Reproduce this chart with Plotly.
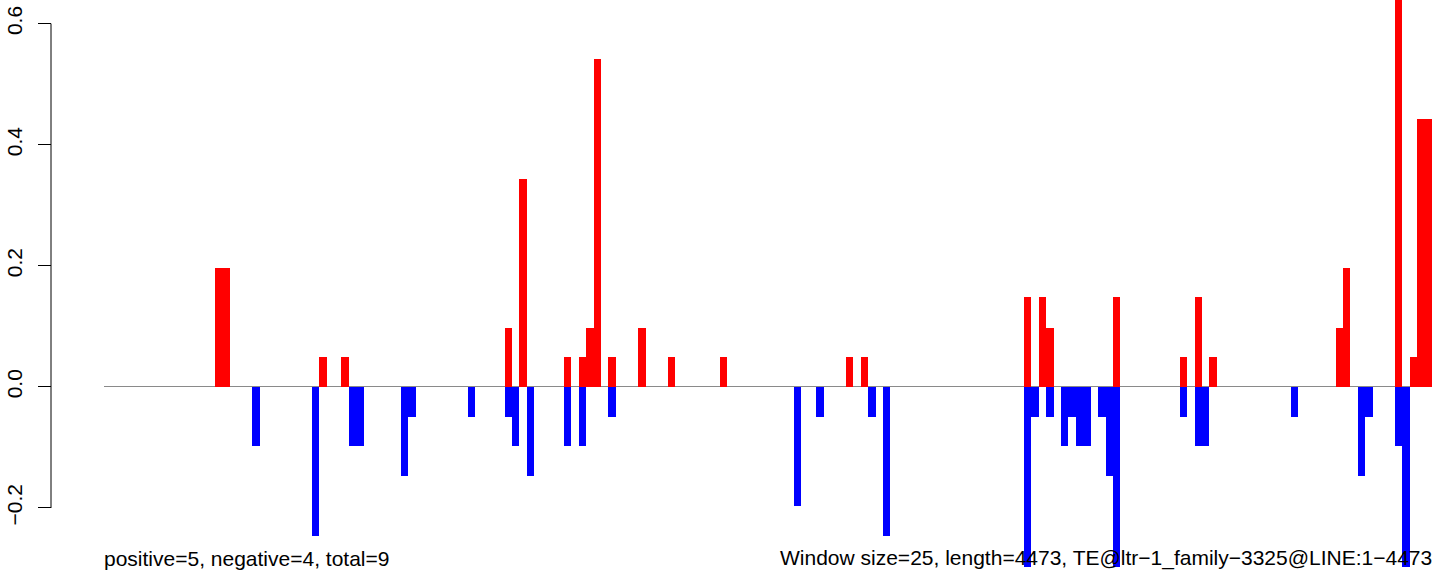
import plotly.graph_objects as go

n_windows = 179

pos_idx = [15, 16, 29, 32, 54, 56, 62, 64, 65, 66, 68, 72, 76, 83, 100, 102,
           124, 126, 127, 136, 145, 147, 149, 166, 167, 174, 176, 177, 178]
pos_val = [0.197, 0.197, 0.049, 0.049, 0.098, 0.344, 0.049, 0.049, 0.098, 0.541, 0.049, 0.098, 0.049, 0.049, 0.049, 0.049,
           0.148, 0.148, 0.098, 0.148, 0.049, 0.148, 0.049, 0.098, 0.197, 0.70, 0.049, 0.443, 0.443]

neg_idx = [20, 28, 33, 34, 40, 41, 49, 54, 55, 57, 62, 64, 68, 93, 96, 103, 105,
           124, 125, 127, 129, 130, 131, 132, 134, 135, 136, 145, 147, 148, 160, 169, 170, 174, 175]
neg_val = [-0.098, -0.246, -0.098, -0.098, -0.148, -0.049, -0.049, -0.049, -0.098, -0.148, -0.098, -0.098, -0.049,
           -0.197, -0.049, -0.049, -0.246,
           -0.35, -0.049, -0.049, -0.098, -0.049, -0.098, -0.098, -0.049, -0.148, -0.35, -0.049, -0.098, -0.098,
           -0.049, -0.148, -0.049, -0.098, -0.35]

y_ticks = [-0.2, 0.0, 0.2, 0.4, 0.6]
y_tick_text = ["\u22120.2", "0.0", "0.2", "0.4", "0.6"]

left_text = "positive=5, negative=4, total=9"
right_text = "Window size=25, length=4473, TE@ltr\u22121_family\u22123325@LINE:1\u22124473"

FONT = "Liberation Sans, Arial, Helvetica, sans-serif"
FS = 21

fig = go.Figure()
fig.add_trace(go.Bar(x=pos_idx, y=pos_val, width=1.0, marker=dict(color="#FF0000", line=dict(width=0)),
                     showlegend=False, hoverinfo="skip"))
fig.add_trace(go.Bar(x=neg_idx, y=neg_val, width=1.0, marker=dict(color="#0000FF", line=dict(width=0)),
                     showlegend=False, hoverinfo="skip"))

W, H = 1444, 573
ml, mr, mt, mb = 51, 12, 0, 6
plot_left = 104
dom0 = (plot_left - ml) / (W - ml - mr)

fig.update_layout(
    width=W, height=H,
    margin=dict(l=ml, r=mr, t=mt, b=mb),
    paper_bgcolor="white", plot_bgcolor="white",
    barmode="overlay", bargap=0,
    font=dict(family=FONT, size=FS, color="black"),
    xaxis=dict(domain=[dom0, 1], range=[-0.5, n_windows - 0.5], visible=False,
               showgrid=False, zeroline=False),
    yaxis=dict(range=[-0.2975, 0.639], anchor="free", position=0,
               tickmode="array", tickvals=y_ticks, ticktext=y_tick_text,
               tickangle=-90, ticks="outside", ticklen=13, tickwidth=1, tickcolor="black",
               ticklabelstandoff=8,
               showline=False, showgrid=False,
               zeroline=True, zerolinecolor="#8a8a8a", zerolinewidth=1,
               tickfont=dict(family=FONT, size=FS, color="black")),
    shapes=[dict(type="line", xref="paper", yref="y", x0=0, x1=0, y0=-0.2, y1=0.6,
                 line=dict(color="black", width=1))],
    annotations=[
        dict(text=left_text, xref="x domain", yref="paper", x=0, y=(567 - 558) / 567,
             xanchor="left", yanchor="middle", showarrow=False, xshift=-2,
             font=dict(family=FONT, size=FS, color="black")),
        dict(text=right_text, xref="x domain", yref="paper", x=1, y=(567 - 558) / 567,
             xanchor="right", yanchor="middle", showarrow=False, xshift=2,
             font=dict(family=FONT, size=FS, color="black")),
    ],
)

fig.write_html("out.html", config={"displayModeBar": False},
               post_script="document.body.style.margin='0';document.body.style.overflow='hidden';")
